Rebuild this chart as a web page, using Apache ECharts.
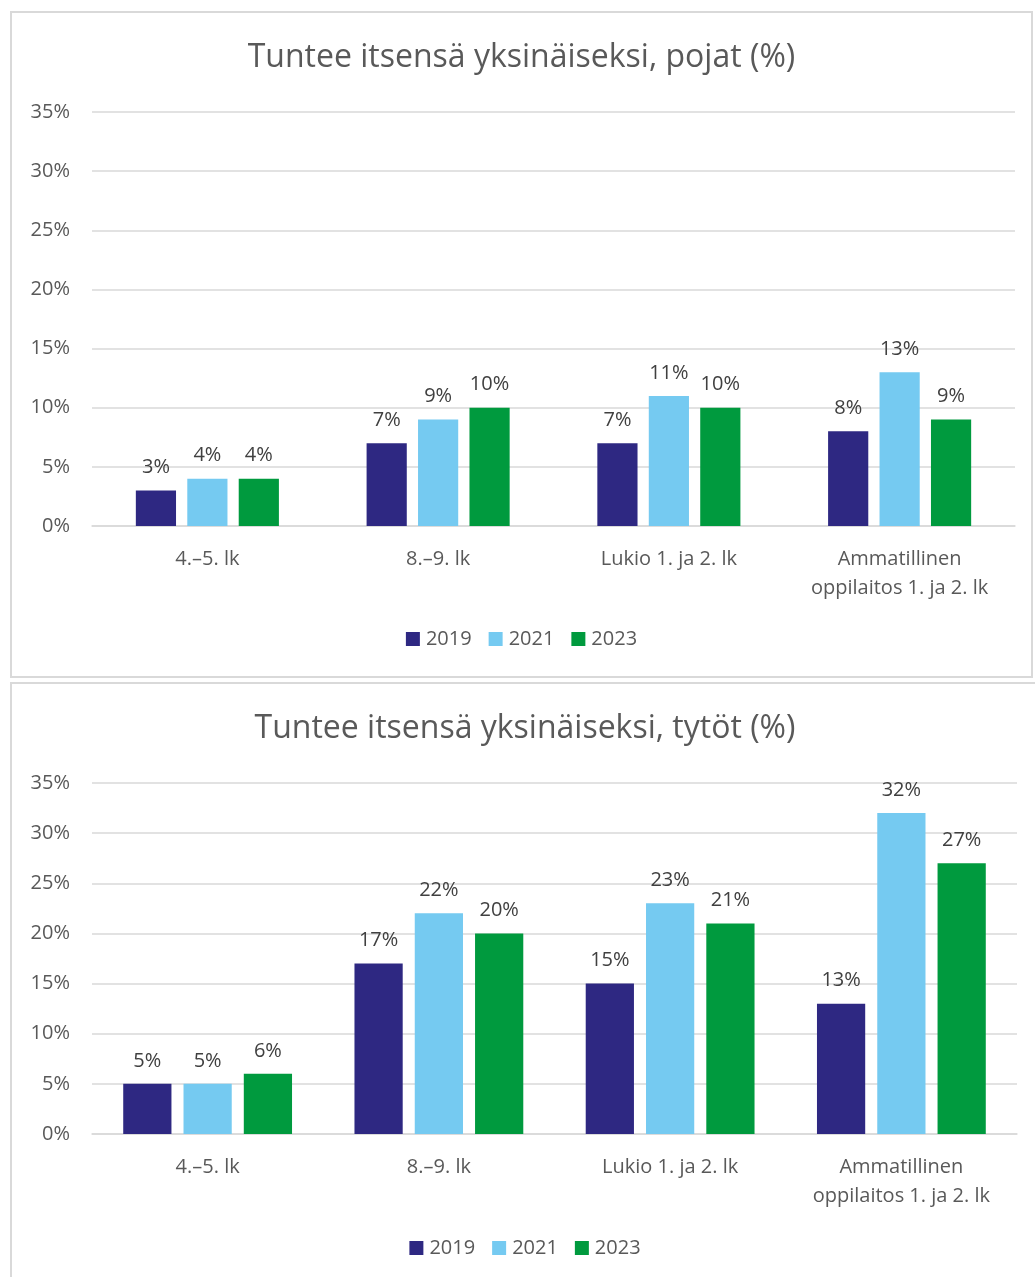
<!DOCTYPE html>
<html>
<head>
<meta charset="utf-8">
<script src="https://cdn.jsdelivr.net/npm/echarts@6/dist/echarts.min.js"></script>
<style>
  html, body { margin: 0; padding: 0; background: #fff; overflow: hidden; }
  .box { position: absolute; border: 2px solid #d9d9d9; box-sizing: border-box; background: #fff; }
  #boys { left: 10px; top: 11px; width: 1023px; height: 667px; }
  #girls { left: 10px; top: 682px; width: 1030px; height: 600px; }
</style>
</head>
<body>
<div id="boys" class="box"></div>
<div id="girls" class="box"></div>
<script>
const categories = ["4.–5. lk", "8.–9. lk", "Lukio 1. ja 2. lk", "Ammatillinen\noppilaitos 1. ja 2. lk"];
const years = ["2019", "2021", "2023"];
const colors = ["#2e2882", "#75caf1", "#009a3e"];

// pojat
const boys2019 = [3, 7, 7, 8];
const boys2021 = [4, 9, 11, 13];
const boys2023 = [4, 10, 10, 9];

// tytöt
const girls2019 = [5, 17, 15, 13];
const girls2021 = [5, 22, 23, 32];
const girls2023 = [6, 20, 21, 27];

const yTicks = [0, 5, 10, 15, 20, 25, 30, 35];

const font = "'Open Sans', 'Noto Sans', sans-serif";
const textColor = "#595959";

function makeOption(title, seriesData, layout) {
  return {
    animation: false,
    textStyle: { fontFamily: font },
    title: {
      text: title,
      left: "center",
      top: layout.titleTop,
      textStyle: { fontFamily: font, fontSize: 32, fontWeight: "normal", color: textColor }
    },
    legend: {
      bottom: layout.legendBottom,
      left: "center",
      itemWidth: 14,
      itemHeight: 14,
      itemGap: 17,
      icon: "rect",
      textStyle: { fontFamily: font, fontSize: 20, color: textColor, padding: [0, 0, 0, 1] },
      data: years
    },
    grid: {
      left: layout.gridLeft,
      right: layout.gridRight,
      top: layout.gridTop,
      bottom: layout.gridBottom,
      containLabel: false
    },
    xAxis: {
      type: "category",
      data: categories,
      axisLine: { lineStyle: { color: "#d9d9d9", width: 1.5 } },
      axisTick: { show: false },
      axisLabel: { color: textColor, fontSize: 20, fontFamily: font, margin: 19, lineHeight: 29, interval: 0 }
    },
    yAxis: {
      type: "value",
      min: yTicks[0],
      max: yTicks[yTicks.length - 1],
      interval: 5,
      axisLine: { show: false },
      axisTick: { show: false },
      splitLine: { lineStyle: { color: "#d9d9d9", width: 1.5 } },
      axisLabel: { color: textColor, fontSize: 20, fontFamily: font, margin: 22, formatter: "{value}%" }
    },
    series: seriesData.map((d, i) => ({
      name: years[i],
      type: "bar",
      data: d,
      barGap: layout.barGap,
      barCategoryGap: layout.barCategoryGap,
      itemStyle: { color: colors[i] },
      label: {
        show: true,
        position: "top",
        distance: 13,
        formatter: "{c}%",
        color: "#404040",
        fontSize: 20,
        fontFamily: font
      }
    }))
  };
}

const boysChart = echarts.init(document.getElementById("boys"), null, { renderer: "canvas" });
boysChart.setOption(makeOption(
  "Tuntee itsensä yksinäiseksi, pojat (%)",
  [boys2019, boys2021, boys2023],
  { titleTop: 24, legendBottom: 22, gridLeft: 80, gridRight: 16, gridTop: 99, gridBottom: 150, barGap: "28%", barCategoryGap: "38%" }
));

const girlsChart = echarts.init(document.getElementById("girls"), null, { renderer: "canvas" });
girlsChart.setOption(makeOption(
  "Tuntee itsensä yksinäiseksi, tytöt (%)",
  [girls2019, girls2021, girls2023],
  { titleTop: 24, legendBottom: 17, gridLeft: 80, gridRight: 21, gridTop: 99, gridBottom: 146, barGap: "25%", barCategoryGap: "27%" }
));
</script>
</body>
</html>
